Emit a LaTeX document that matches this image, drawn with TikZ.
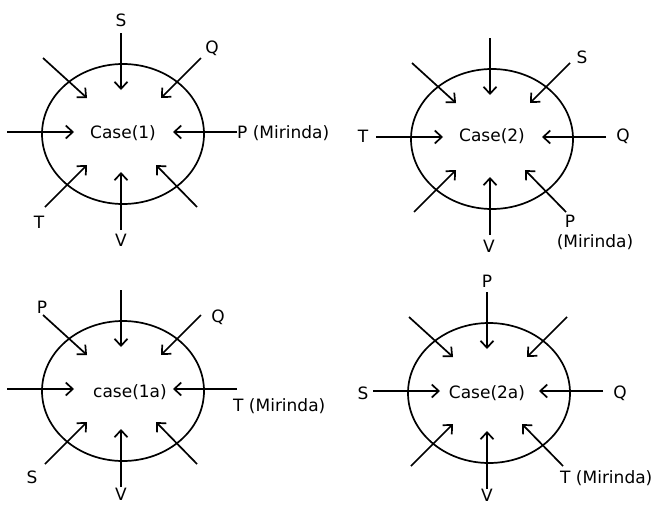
\documentclass[tikz,border=0pt]{standalone}
\usepackage{fontspec}
\setmainfont{DejaVu Sans}
\usetikzlibrary{shapes,arrows.meta,calc}

\tikzset{
  oval/.style={draw,ellipse,line width=1.7pt,minimum width=162pt,minimum height=140pt,inner sep=0pt},
  lbl/.style={font=\fontsize{17}{20}\selectfont,inner sep=1pt},
  flow/.style={-{Straight Barb[length=7pt,width=13pt]},line width=1.7pt}
}

\begin{document}
\begin{tikzpicture}[x=1pt,y=-1pt]
    \useasboundingbox (0,0) rectangle (666,504);
    %Ovals
    \node[oval] (o1) at (123,134) {};
    \node[oval] (o2) at (492,139) {};
    \node[oval] (o3) at (123,391) {};
    \node[oval] (o4) at (489,393) {};
    %Arrows into the ovals
    \foreach \o in {o1,o2,o3,o4}
      \foreach \d/\sx/\sy/\ex/\ey in {n/-2/-101/-2/-44, ne/78/-76/38/-36, nw/-80/-76/-36/-36, w/-116/-2/-49/-2,
                                      e/114/-2/50/-2, sw/-78/73/-36/31, s/-2/96/-2/38, se/74/73/33/31}
      {
        \coordinate (\o\d a) at ($(\o)+(\sx,\sy)$);
        \coordinate (\o\d b) at ($(\o)+(\ex,\ey)$);
        \draw[flow] (\o\d a) -- (\o\d b);
      }
    %Case 1
    \node[lbl] (t1) at (123,133) {Case(1)};
    \node[lbl] (s1) at (121,20) {S};
    \node[lbl] (q1) at (212,48) {Q};
    \node[lbl,anchor=west] (p1) at (236,133) {P (Mirinda)};
    \node[lbl] (tt1) at (39,222) {T};
    \node[lbl] (v1) at (121,240) {V};
    %Case 2
    \node[lbl] (t2) at (492,136) {Case(2)};
    \node[lbl] (s2) at (582,57) {S};
    \node[lbl] (tt2) at (363,136) {T};
    \node[lbl] (q2) at (623,136) {Q};
    \node[lbl] (v2) at (489,246) {V};
    \node[lbl] (p2) at (570,221) {P};
    \node[lbl] (m2) at (595,242) {(Mirinda)};
    %Case 1a
    \node[lbl] (t3) at (130,392) {case(1a)};
    \node[lbl] (p3) at (42,307) {P};
    \node[lbl] (q3) at (218,317) {Q};
    \node[lbl,anchor=west] (tt3) at (232,406) {T (Mirinda)};
    \node[lbl] (s3) at (32,477) {S};
    \node[lbl] (v3) at (121,494) {V};
    %Case 2a
    \node[lbl] (t4) at (487,393) {Case(2a)};
    \node[lbl] (p4) at (487,281) {P};
    \node[lbl] (s4) at (363,393) {S};
    \node[lbl] (q4) at (620,393) {Q};
    \node[lbl] (v4) at (487,495) {V};
    \node[lbl,anchor=west] (tt4) at (559,478) {T (Mirinda)};
\end{tikzpicture}
\end{document}
